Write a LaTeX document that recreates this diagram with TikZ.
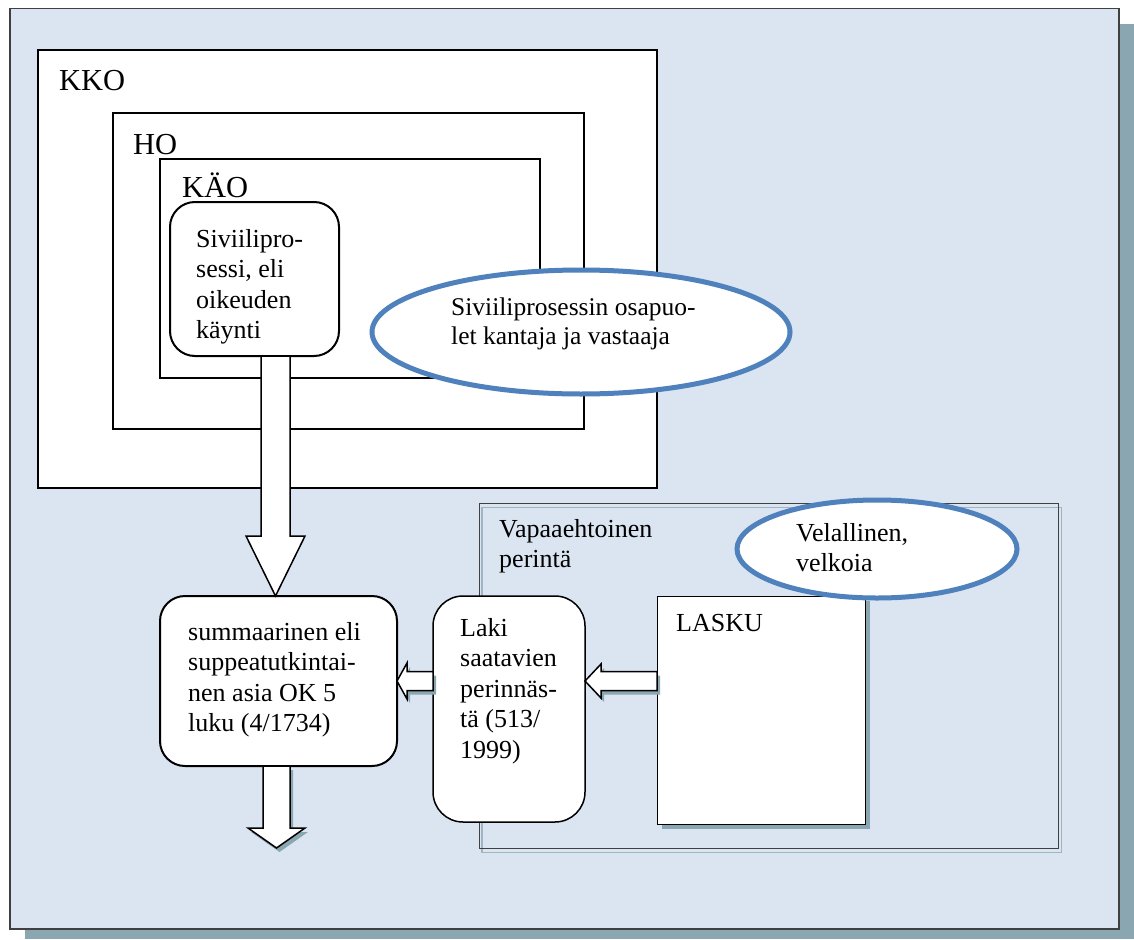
\documentclass[tikz,border=0pt]{standalone}
\usepackage{fontspec}
\setmainfont{Liberation Serif}
\usetikzlibrary{calc,shapes.geometric}
\definecolor{bgblue}{HTML}{DBE5F1}
\definecolor{shadowc}{RGB}{138,166,176}
\definecolor{ellblue}{HTML}{4F81BD}
\definecolor{frameline}{HTML}{404040}
\definecolor{paleline}{RGB}{160,180,194}
\newcommand{\txtlines}[1]{\parbox[t]{400pt}{\raggedright #1}}
% arrow paths, #1 = offset
\newcommand{\bigarrowpath}[1]{($(siv.south)+(6.5,0)+#1$) -- ($(summ.north)+(-17.5,-60)+#1$) -- ($(summ.north)+(-32.5,-60)+#1$) -- ($(summ.north)+(-3,0)+#1$) -- ($(summ.north)+(26.5,-60)+#1$) -- ($(summ.north)+(11.5,-60)+#1$) -- ($(siv.south)+(35.5,0)+#1$) -- cycle}
\newcommand{\downarrowpath}[1]{($(summ.south)+(-15.5,0)+#1$) -- ($(summ.south)+(-15.5,62)+#1$) -- ($(summ.south)+(-30.5,62)+#1$) -- ($(outend)+#1$) -- ($(summ.south)+(26.5,62)+#1$) -- ($(summ.south)+(11.5,62)+#1$) -- ($(summ.south)+(11.5,0)+#1$) -- cycle}
\newcommand{\lakiarrowpath}[1]{($(summ.east)+#1$) -- ($(summ.east)+(10,-18)+#1$) -- ($(summ.east)+(10,-9.5)+#1$) -- ($(laki.west |- summ.east)+(0,-9.5)+#1$) -- ($(laki.west |- summ.east)+(0,9.5)+#1$) -- ($(summ.east)+(10,9.5)+#1$) -- ($(summ.east)+(10,18)+#1$) -- cycle}
\newcommand{\laskuarrowpath}[1]{($(laki.east |- summ.east)+#1$) -- ($(laki.east |- summ.east)+(16,-17)+#1$) -- ($(laki.east |- summ.east)+(16,-9.5)+#1$) -- ($(lasku.west |- summ.east)+(0,-9.5)+#1$) -- ($(lasku.west |- summ.east)+(0,9.5)+#1$) -- ($(laki.east |- summ.east)+(16,9.5)+#1$) -- ($(laki.east |- summ.east)+(16,17)+#1$) -- cycle}

\begin{document}
\begin{tikzpicture}[x=1pt,y=-1pt,
  box/.style={draw=black, line width=2pt, fill=white, rectangle, anchor=north west, inner sep=0pt, outer sep=0pt},
  rbox/.style={box, rounded corners=25pt},
  ell/.style={draw=ellblue, line width=5pt, fill=white, ellipse, inner sep=0pt},
  txt/.style={anchor=base west, inner sep=0pt, font=\fontsize{26}{30.5}\selectfont},
  etxt/.style={anchor=base west, inner sep=0pt, font=\fontsize{25.5}{29}\selectfont},
  lbl/.style={anchor=base west, inner sep=0pt, font=\fontsize{30.5}{36}\selectfont},
  blockarrow/.style={draw=black, line width=1.5pt, fill=white, line join=miter},
  arrowshadow/.style={fill=shadowc, draw=none}]
\useasboundingbox (0,0) rectangle (1134,939);

% background panel with shadow
\fill[shadowc] (25,24) rectangle (1134,939);
\node[draw=frameline, line width=1.5pt, fill=bgblue, rectangle, anchor=north west, inner sep=0pt, minimum width=1109, minimum height=920] (frame) at (9,8) {};

% nested courts
\node[box, minimum width=619, minimum height=438] (kko) at (38,50) {};
\node[box, minimum width=471, minimum height=316] (ho) at (113,113) {};
\node[box, minimum width=380, minimum height=219] (kao) at (160,159) {};
\node[lbl] (kkolbl) at (59,91) {KKO};
\node[lbl] (holbl) at (133,154) {HO};
\node[lbl] (kaolbl) at (182,197) {KÄO};

\node[rbox, minimum width=169, minimum height=154] (siv) at (170,202) {};
\node[txt] (sivtxt) at (196,247) {\txtlines{Siviilipro-\\sessi, eli\\oikeuden\\käynti}};

\node[ell, minimum width=418, minimum height=124] (osap) at (581,332) {};
\node[etxt] (osaptxt) at (451,315) {\txtlines{Siviiliprosessin osapuo-\\let kantaja ja vastaaja}};

% voluntary collection frame
\draw[paleline, line width=1.5pt] (482,507.5) rectangle (1061.5,852.5);
\node[draw=frameline, line width=1.3pt, rectangle, anchor=north west, inner sep=0pt, minimum width=579, minimum height=345] (vapaa) at (479,503) {};
\node[txt] (vapaatxt) at (499,537) {\txtlines{Vapaaehtoinen\\perintä}};

% invoice with shadow
\fill[shadowc] (662,601) rectangle (870,829);
\node[draw=black, line width=1.3pt, fill=white, rectangle, anchor=north west, inner sep=0pt, minimum width=208, minimum height=228] (lasku) at (657,596) {};
\node[txt] (laskutxt) at (676,631) {LASKU};

\node[ell, minimum width=280, minimum height=98] (velka) at (877,549) {};
\node[txt] (velkatxt) at (796,541) {\txtlines{Velallinen,\\velkoia}};

% law box and summary case box
\node[box, line width=1.5pt, rounded corners=30pt, minimum width=152, minimum height=226] (laki) at (433,596) {};
\node[txt] (lakitxt) at (460,636) {\txtlines{Laki\\saatavien\\perinnäs-\\tä (513/\\1999)}};

\node[rbox, minimum width=237, minimum height=170] (summ) at (160,596) {};
\node[txt] (summtxt) at (188,640) {\txtlines{summaarinen eli\\suppeatutkintai-\\nen asia OK 5\\luku (4/1734)}};

\coordinate (outend) at ($(summ.south)+(-2,82)$);

% arrow shadows
\fill[arrowshadow] \downarrowpath{(3,4)};
\fill[arrowshadow] \lakiarrowpath{(3,4)};
\fill[arrowshadow] \laskuarrowpath{(3,4)};

% block arrows
\draw[blockarrow] \bigarrowpath{(0,0)};
\draw[blockarrow] \downarrowpath{(0,0)};
\draw[blockarrow] \lakiarrowpath{(0,0)};
\draw[blockarrow] \laskuarrowpath{(0,0)};
\end{tikzpicture}
\end{document}
